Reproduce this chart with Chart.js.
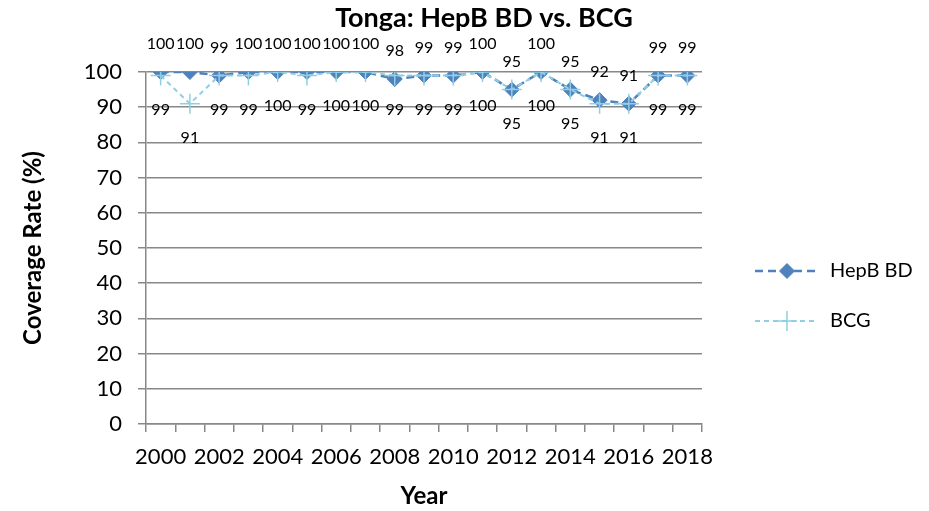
<!DOCTYPE html>
<html>
<head>
<meta charset="utf-8">
<script src="https://cdn.jsdelivr.net/npm/chart.js@4"></script>
<style>
  html, body { margin: 0; padding: 0; background: #fff; }
  #wrap { width: 929px; height: 511px; }
</style>
</head>
<body>
<div id="wrap"><canvas id="chart"></canvas></div>
<script>
var years = ['2000','2001','2002','2003','2004','2005','2006','2007','2008','2009',
             '2010','2011','2012','2013','2014','2015','2016','2017','2018'];
var hepb = [100,100,99,100,100,100,100,100,98,99,99,100,95,100,95,92,91,99,99];
var bcg  = [99,91,99,99,100,99,100,100,99,99,99,100,95,100,95,91,91,99,99];
var yTicks = [0,10,20,30,40,50,60,70,80,90,100];
var chartTitle = 'Tonga: HepB BD vs. BCG';
var legendNames = ['HepB BD', 'BCG'];

var FONT = 'Lato, "Open Sans", sans-serif';
var BLUE = '#4F81BD';
var LIGHT = '#8FCFE3';
var GRID = '#888888';

// value labels: HepB above, BCG below
var valueLabels = {
  id: 'valueLabels',
  afterDatasetsDraw: function(chart) {
    var ctx = chart.ctx;
    ctx.save();
    ctx.font = '16px ' + FONT;
    ctx.fillStyle = '#000';
    ctx.textAlign = 'center';
    ctx.textBaseline = 'middle';
    chart.data.datasets.forEach(function(ds, i) {
      var meta = chart.getDatasetMeta(i);
      meta.data.forEach(function(pt, j) {
        var dy = i == 0 ? -28 : 34;
        ctx.fillText(String(ds.data[j]), pt.x, pt.y + dy);
      });
    });
    ctx.restore();
  }
};

// title + legend drawn by hand so they sit where the office chart puts them
var extras = {
  id: 'extras',
  afterDraw: function(chart) {
    var ctx = chart.ctx;
    ctx.save();
    ctx.font = 'bold 27px ' + FONT;
    ctx.fillStyle = '#000';
    ctx.textAlign = 'center';
    ctx.textBaseline = 'middle';
    ctx.fillText(chartTitle, 484, 18);
    ctx.restore();

    var ys = [271, 321];
    chart.data.datasets.forEach(function(ds, i) {
      var y = ys[i];
      ctx.save();
      ctx.strokeStyle = ds.borderColor;
      ctx.lineWidth = ds.borderWidth;
      ctx.setLineDash(ds.borderDash);
      ctx.beginPath();
      ctx.moveTo(755, y);
      ctx.lineTo(818, y);
      ctx.stroke();
      ctx.setLineDash([]);
      ctx.fillStyle = ds.pointBackgroundColor;
      ctx.strokeStyle = ds.pointBorderColor;
      ctx.lineWidth = ds.pointBorderWidth;
      Chart.helpers.drawPoint(ctx, {
        pointStyle: ds.pointStyle,
        radius: ds.pointRadius,
        borderWidth: ds.pointBorderWidth
      }, 787, y);
      ctx.font = '20px ' + FONT;
      ctx.fillStyle = '#000';
      ctx.textAlign = 'left';
      ctx.textBaseline = 'middle';
      ctx.fillText(legendNames[i], 830, y);
      ctx.restore();
    });
  }
};

new Chart(document.getElementById('chart'), {
  type: 'line',
  data: {
    labels: years,
    datasets: [{
      label: legendNames[0],
      data: hepb,
      order: 1,
      borderColor: BLUE,
      borderWidth: 2.5,
      borderDash: [8, 5],
      pointStyle: 'rectRot',
      pointRadius: 7.5,
      pointBackgroundColor: BLUE,
      pointBorderColor: BLUE,
      pointBorderWidth: 1,
      tension: 0
    }, {
      label: legendNames[1],
      data: bcg,
      order: 0,
      borderColor: LIGHT,
      borderWidth: 2,
      borderDash: [5, 4],
      pointStyle: 'cross',
      pointRadius: 10,
      pointBackgroundColor: LIGHT,
      pointBorderColor: LIGHT,
      pointBorderWidth: 1.5,
      tension: 0
    }]
  },
  options: {
    responsive: true,
    maintainAspectRatio: false,
    animation: false,
    devicePixelRatio: 1,
    layout: { padding: { left: 0, right: 227, top: 72, bottom: 0 } },
    plugins: {
      legend: { display: false },
      tooltip: { enabled: false },
      title: { display: false }
    },
    scales: {
      x: {
        offset: true,
        afterFit: function(axis) { axis.height = 87; },
        grid: {
          display: true,
          offset: true,
          drawOnChartArea: false,
          color: GRID,
          lineWidth: 1.5,
          tickLength: 8
        },
        border: { color: GRID, width: 1.5 },
        ticks: {
          color: '#000',
          font: { family: FONT, size: 22 },
          autoSkip: false,
          maxRotation: 0,
          padding: 12,
          callback: function(v, i) { return i % 2 == 0 ? years[i] : ''; }
        },
        title: {
          display: true,
          text: 'Year',
          color: '#000',
          font: { family: FONT, size: 24, weight: 'bold' },
          padding: { top: 10, bottom: 0 }
        }
      },
      y: {
        min: 0,
        max: 100,
        afterFit: function(axis) { axis.width = 146; },
        afterBuildTicks: function(axis) {
          axis.ticks = yTicks.map(function(v) { return {value: v}; });
        },
        grid: {
          color: GRID,
          lineWidth: 1.5,
          tickLength: 8
        },
        border: { color: GRID, width: 1.5 },
        ticks: {
          color: '#000',
          font: { family: FONT, size: 22 },
          padding: 16
        },
        title: {
          display: true,
          text: 'Coverage Rate (%)',
          color: '#000',
          font: { family: FONT, size: 24, weight: 'bold' },
          padding: { top: 19, bottom: 0 }
        }
      }
    }
  },
  plugins: [valueLabels, extras]
});
</script>
</body>
</html>
